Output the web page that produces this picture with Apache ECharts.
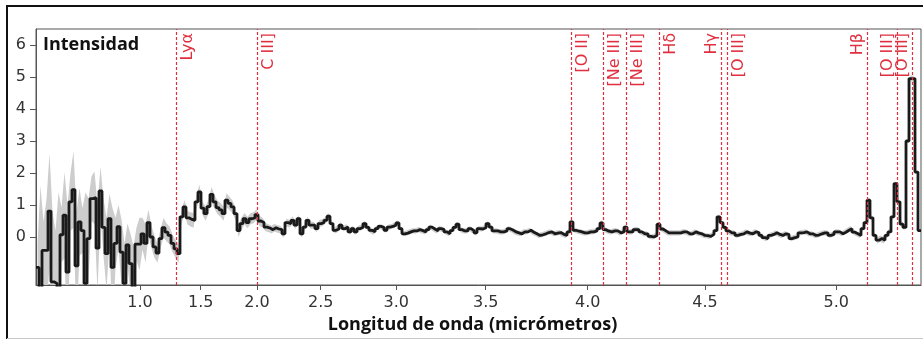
<!DOCTYPE html>
<html><head><meta charset="utf-8">
<script src="https://cdn.jsdelivr.net/npm/echarts@6/dist/echarts.min.js"></script>
<style>html,body{margin:0;padding:0;background:#fff}#c{width:923px;height:340px}</style>
</head><body><div id="c"></div>
<script>
// Spectrum intensity per spectral pixel (bin index 0..294)
const flux = [
 -0.95,-1.7,-0.42,-0.42,0.81,-1.4,-1.45,-1.6,0.07,0.68,
 -1.1,1.1,1.48,-0.9,0.47,0.2,-1.45,-0.05,1.2,1.23,
 -0.35,1.44,0.3,-0.52,0.57,-0.95,-0.2,0.32,-0.47,-1.45,
 -0.25,-0.83,-1.6,-0.22,-0.22,0.1,-0.2,0.45,0.0,-0.31,
 -0.5,-0.05,0.29,0.15,0.05,-0.2,-0.37,-0.52,0.63,0.94,
 0.6,0.55,0.52,1.1,1.41,0.9,0.73,0.95,1.33,1.1,
 0.92,0.85,0.73,1.15,1.05,0.94,0.73,0.2,0.42,0.57,
 0.45,0.57,0.6,0.7,0.5,0.45,0.31,0.28,0.23,0.29,
 0.25,0.23,0.1,0.45,0.42,0.52,0.37,0.57,0.1,0.31,
 0.52,0.37,0.37,0.26,0.42,0.45,0.52,0.65,0.42,0.21,
 0.25,0.37,0.26,0.31,0.16,0.26,0.16,0.26,0.3,0.42,
 0.3,0.21,0.16,0.26,0.33,0.3,0.21,0.31,0.33,0.37,
 0.44,0.26,0.1,0.12,0.16,0.19,0.19,0.23,0.2,0.16,
 0.23,0.31,0.25,0.19,0.26,0.24,0.16,0.1,0.2,0.3,
 0.4,0.23,0.19,0.19,0.26,0.2,0.13,0.26,0.25,0.29,
 0.42,0.31,0.19,0.19,0.16,0.16,0.19,0.26,0.22,0.16,
 0.13,0.1,0.16,0.16,0.21,0.15,0.1,0.05,0.07,0.1,
 0.14,0.16,0.1,0.12,0.14,0.08,0.05,0.16,0.47,0.21,
 0.18,0.16,0.13,0.13,0.16,0.16,0.19,0.26,0.44,0.23,
 0.18,0.16,0.19,0.19,0.13,0.16,0.31,0.16,0.16,0.23,
 0.23,0.16,0.1,0.1,0.02,0.0,0.05,0.4,0.25,0.19,
 0.13,0.13,0.13,0.13,0.13,0.16,0.16,0.1,0.1,0.16,
 0.12,0.1,0.05,0.04,0.02,0.08,0.2,0.63,0.45,0.3,
 0.19,0.13,0.13,0.05,0.08,0.1,0.16,0.12,0.1,0.16,
 0.14,0.05,-0.02,-0.05,0.05,0.08,0.13,0.08,0.05,0.1,
 0.08,-0.05,-0.02,0.0,0.13,0.14,0.16,0.1,0.1,0.05,
 0.06,0.1,0.13,0.13,0.05,0.08,0.16,0.16,0.1,0.15,
 0.21,0.26,0.15,0.1,0.05,0.26,0.45,1.15,0.6,0.05,
 -0.1,-0.05,-0.1,0.05,0.16,0.63,1.67,1.1,0.4,0.3,
 3.0,4.95,4.95,2.03,0.2
];
// Uncertainty (half-width of the grey band) per spectral pixel
const fluxErr = [
 0.75,3.3,0.9,1.6,1.8,2.2,1.65,3.0,0.85,1.35,
 2.1,0.9,1.2,1.7,1.05,0.7,2.85,1.25,0.7,0.82,
 1.35,0.76,0.9,1.12,0.78,1.85,0.8,0.68,1.02,1.25,
 0.67,0.93,1.3,0.52,0.82,0.5,0.6,0.4,0.35,0.35,
 0.3,0.3,0.3,0.28,0.28,0.28,0.28,0.3,0.22,0.22,
 0.21,0.22,0.23,0.22,0.22,0.21,0.22,0.22,0.23,0.22,
 0.21,0.22,0.22,0.22,0.21,0.2,0.2,0.2,0.19,0.18,
 0.18,0.17,0.17,0.16,0.16,0.15,0.13,0.12,0.12,0.12,
 0.12,0.12,0.12,0.12,0.12,0.12,0.12,0.12,0.12,0.12,
 0.11,0.11,0.11,0.11,0.11,0.11,0.1,0.1,0.1,0.1,
 0.1,0.09,0.09,0.09,0.09,0.09,0.09,0.09,0.09,0.09,
 0.09,0.09,0.09,0.08,0.08,0.08,0.08,0.08,0.08,0.08,
 0.08,0.08,0.08,0.08,0.08,0.08,0.08,0.08,0.08,0.08,
 0.08,0.08,0.08,0.08,0.08,0.08,0.08,0.08,0.08,0.08,
 0.08,0.08,0.08,0.08,0.08,0.08,0.08,0.08,0.08,0.08,
 0.08,0.08,0.08,0.08,0.08,0.08,0.08,0.08,0.08,0.08,
 0.08,0.08,0.08,0.08,0.08,0.08,0.08,0.08,0.08,0.08,
 0.08,0.08,0.08,0.08,0.08,0.08,0.08,0.08,0.09,0.08,
 0.08,0.08,0.08,0.08,0.08,0.08,0.08,0.08,0.09,0.08,
 0.08,0.08,0.08,0.08,0.08,0.08,0.08,0.08,0.08,0.08,
 0.08,0.08,0.08,0.08,0.08,0.08,0.08,0.09,0.08,0.08,
 0.08,0.08,0.08,0.08,0.08,0.08,0.08,0.08,0.08,0.08,
 0.08,0.08,0.08,0.08,0.08,0.08,0.08,0.09,0.08,0.08,
 0.08,0.08,0.08,0.08,0.08,0.08,0.08,0.08,0.08,0.08,
 0.08,0.08,0.08,0.08,0.08,0.08,0.08,0.08,0.08,0.08,
 0.08,0.08,0.08,0.08,0.08,0.08,0.08,0.08,0.08,0.08,
 0.08,0.08,0.08,0.08,0.08,0.08,0.08,0.08,0.08,0.08,
 0.08,0.08,0.08,0.08,0.08,0.1,0.1,0.1,0.1,0.1,
 0.1,0.1,0.1,0.1,0.1,0.1,0.1,0.1,0.1,0.1,
 0.1,0.1,0.1,0.1,0.1
];
// Wavelength solution: wavelength (µm) vs spectral pixel index
const calWave = [1.0,1.5,2.0,2.5,3.0,3.5,4.0,4.5,5.0,5.5];
const calPix  = [34.67,54.9,73.67,94.9,120.1,149.9,183.9,223.0,266.77,314.77];
const xTickLabels = ['1.0','1.5','2.0','2.5','3.0','3.5','4.0','4.5','5.0'];
const yTickValues = [0,1,2,3,4,5,6];
// Emission lines
const lineNames = ['Lyα','C III]','[O II]','[Ne III]','[Ne III]','Hδ','Hγ','[O III]','Hβ','[O III]','[O III]'];
const lineWaves = [1.2965,2.0,3.917,4.064,4.162,4.305,4.560,4.582,5.108,5.210,5.263];
const lineSide  = ['r','r','r','r','r','r','l','r','l','l','l'];

function waveToPix(w){
  for (let k=0;k<calWave.length-1;k++){
    if (w<=calWave[k+1] || k===calWave.length-2){
      const t=(w-calWave[k])/(calWave[k+1]-calWave[k]);
      return calPix[k]+t*(calPix[k+1]-calPix[k]);
    }
  }
}
const nBins = flux.length;
const xTickPos = xTickLabels.map(l=>waveToPix(parseFloat(l)));
const stepData = flux.map((v,i)=>[i,v]).concat([[nBins, flux[nBins-1]]]);
const linesData = lineWaves.map((w,i)=>[waveToPix(w), i]);

const chart = echarts.init(document.getElementById('c'), null, {renderer:'canvas'});
const redC = '#e0303f';
chart.setOption({
  animation:false,
  color:['#cdcdcd','#1a1a1a',redC],
  grid:{left:36, top:29, right:2, bottom:55, show:true, borderColor:'#555', borderWidth:1},
  xAxis:{
    type:'value', min:0, max:nBins,
    axisLine:{show:true, onZero:false, lineStyle:{color:'#555', width:1}},
    axisTick:{show:true, length:5, customValues:xTickPos, lineStyle:{color:'#555'}},
    axisLabel:{show:true, customValues:xTickPos, margin:10, color:'#333',
      fontFamily:'DejaVu Sans', fontSize:16,
      formatter:(v)=>{ let best=0,bd=1e9; xTickPos.forEach((p,i)=>{const d=Math.abs(p-v); if(d<bd){bd=d;best=i;}}); return xTickLabels[best]; }},
    splitLine:{show:false}
  },
  yAxis:{
    type:'value', min:-1.5, max:6.5,
    axisLine:{show:true, onZero:false, lineStyle:{color:'#555', width:1}},
    axisTick:{show:true, length:6, customValues:yTickValues, lineStyle:{color:'#555'}},
    axisLabel:{show:true, customValues:yTickValues, margin:10, color:'#333',
      fontFamily:'DejaVu Sans', fontSize:16},
    splitLine:{show:false}
  },
  graphic:[
    {type:'line', shape:{x1:6, y1:6, x2:923, y2:6}, style:{stroke:'#111', lineWidth:2}, silent:true},
    {type:'line', shape:{x1:7, y1:5, x2:7, y2:339}, style:{stroke:'#111', lineWidth:2}, silent:true},
    {type:'line', shape:{x1:7, y1:338.5, x2:923, y2:338.5}, style:{stroke:'#c8c8c8', lineWidth:1}, silent:true},
    {type:'text', x:43, y:45, z:100, style:{text:'Intensidad', fill:'#111', font:'bold 18px "Open Sans"', verticalAlign:'middle'}},
    {type:'text', x:472.5, y:325, z:100, style:{text:'Longitud de onda (micrómetros)', fill:'#111', font:'bold 18px "Open Sans"', align:'center', verticalAlign:'middle'}}
  ],
  series:[
    { // uncertainty band
      type:'custom', clip:true, z:1, silent:true,
      itemStyle:{color:'#cdcdcd'},
      data:[[0,0]],
      renderItem:(params, api)=>{
        const pts=[];
        for(let i=0;i<nBins;i++){ pts.push(api.coord([i+0.5, flux[i]+fluxErr[i]])); }
        for(let i=nBins-1;i>=0;i--){ pts.push(api.coord([i+0.5, flux[i]-fluxErr[i]])); }
        return {type:'polygon', shape:{points:pts}, style:{fill:'#cdcdcd'}};
      }
    },
    { // spectrum
      type:'line', step:'end', data:stepData, symbol:'none', z:2, clip:true,
      lineStyle:{color:'#1a1a1a', width:2.8}
    },
    { // emission lines
      type:'custom', clip:false, z:3, silent:true,
      itemStyle:{color:redC},
      data:linesData,
      renderItem:(params, api)=>{
        const idx = api.value(1);
        const cs = params.coordSys;
        const x = Math.round(api.coord([api.value(0), 0])[0]) + 0.5;
        const right = lineSide[idx]==='r';
        return {type:'group', children:[
          {type:'line', shape:{x1:x, y1:cs.y+cs.height, x2:x, y2:cs.y}, style:{stroke:redC, fill:null, lineWidth:1.2, lineDash:[3,2]}},
          {type:'text', x: right ? x+3 : x-2, y: cs.y+4, rotation:Math.PI/2,
            style:{text:lineNames[idx], fill:redC, font:'16px "DejaVu Sans"', align:'right', verticalAlign: right ? 'top':'bottom'}}
        ]};
      }
    }
  ]
});
</script></body></html>
